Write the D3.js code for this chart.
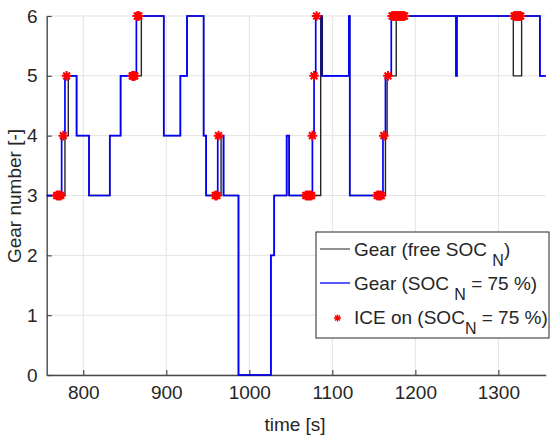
<!DOCTYPE html>
<html><head><meta charset="utf-8">
<script src="https://cdn.jsdelivr.net/npm/d3@7"></script>
<style>
html,body{margin:0;padding:0;background:#fff;}
svg{display:block;font-family:"Liberation Sans",Arial,sans-serif;}
</style></head>
<body><svg id="c" width="556" height="436"></svg>
<script>
// ---- data ----
const xDomain = [756, 1357];
const xTickValues = [800, 900, 1000, 1100, 1200, 1300];
const yTickValues = [0, 1, 2, 3, 4, 5, 6];

// Gear (SOC_N = 75 %) : change points (time, gear)
const blueTime = [756, 774, 778, 792, 807, 832, 845, 864, 897, 917, 925, 945, 948, 962, 969, 987, 1026, 1030, 1045, 1048, 1076, 1078, 1080, 1087, 1120, 1121, 1161, 1164, 1171, 1249, 1250, 1350];
const blueGear = [3, 4, 5, 4, 3, 4, 5, 6, 4, 5, 6, 4, 3, 4, 3, 0, 2, 3, 4, 3, 4, 5, 6, 5, 6, 3, 4, 5, 6, 5, 6, 5];

// Gear (free SOC_N) : change points (time, gear)
const freeTime = [756, 778, 782, 792, 807, 832, 845, 870, 897, 917, 925, 945, 948, 966, 969, 987, 1026, 1030, 1045, 1048, 1086, 1088, 1120, 1121, 1164, 1166, 1177, 1249, 1250, 1318, 1328, 1350];
const freeGear = [3, 4, 5, 4, 3, 4, 5, 6, 4, 5, 6, 4, 3, 4, 3, 0, 2, 3, 4, 3, 6, 5, 6, 3, 4, 5, 6, 5, 6, 5, 6, 5];

// ICE on (SOC_N = 75 %)
const iceTime = [768, 769, 770, 771, 772, 773, 776, 780,
  859, 860, 861, 862, 865, 866, 867,
  959, 960, 961, 963,
  1068, 1069, 1070, 1071, 1072, 1073, 1074, 1075, 1076, 1078, 1081,
  1154, 1155, 1156, 1157, 1158, 1159, 1162, 1167,
  1172, 1173, 1174, 1175, 1176, 1177, 1178, 1179, 1180, 1181, 1182, 1183, 1184, 1185, 1186, 1187,
  1319, 1320, 1321, 1322, 1323, 1324, 1325, 1326, 1327];
const iceGear = [3, 3, 3, 3, 3, 3, 4, 5,
  5, 5, 5, 5, 6, 6, 6,
  3, 3, 3, 4,
  3, 3, 3, 3, 3, 3, 3, 3, 4, 5, 6,
  3, 3, 3, 3, 3, 3, 4, 5,
  6, 6, 6, 6, 6, 6, 6, 6, 6, 6, 6, 6, 6, 6, 6, 6,
  6, 6, 6, 6, 6, 6, 6, 6, 6];

const legendLabels = [
  {main: "Gear (free SOC ", sub: "N", tail: ")"},
  {main: "Gear (SOC ", sub: "N", tail: " = 75 %)"},
  {main: "ICE on (SOC", sub: "N", tail: " = 75 %)"}
];

// ---- layout ----
const L = 46.7, R = 545.7, T = 16, B = 375;
const svg = d3.select("#c");
const x = d3.scaleLinear().domain(xDomain).range([L, R]);
const y = d3.scaleLinear().domain([0, 6]).range([B, T]);

// grid
const grid = svg.append("g");
grid.selectAll(".gx").data(xTickValues).join("line")
  .attr("x1", d => x(d)).attr("x2", d => x(d)).attr("y1", T).attr("y2", B)
  .attr("stroke", "#e3e3e3").attr("stroke-width", 1);
grid.selectAll(".gy").data(yTickValues).join("line")
  .attr("x1", L).attr("x2", R).attr("y1", d => y(d)).attr("y2", d => y(d))
  .attr("stroke", "#e3e3e3").attr("stroke-width", 1);

// axes
const fmt = d3.format("d");
const xAxis = d3.axisBottom(x).tickValues(xTickValues).tickFormat(fmt).tickSizeInner(-5).tickSizeOuter(0).tickPadding(11);
const yAxis = d3.axisLeft(y).tickValues(yTickValues).tickFormat(fmt).tickSizeInner(-5).tickSizeOuter(0).tickPadding(9);
const gx = svg.append("g").attr("transform", `translate(0,${B})`).call(xAxis);
const gy = svg.append("g").attr("transform", `translate(${L},0)`).call(yAxis);
[gx, gy].forEach(g => {
  g.select(".domain").attr("stroke", "#4a4a4a").attr("stroke-width", 1.4);
  g.selectAll(".tick line").attr("stroke", "#4a4a4a").attr("stroke-width", 1.2);
  g.selectAll(".tick text").attr("fill", "#262626").style("font-size", "19px")
    .style("font-family", '"Liberation Sans",Arial,sans-serif');
});

// lines
const stepLine = d3.line().curve(d3.curveStepAfter).x(d => x(d[0])).y(d => y(d[1]));
const freeData = freeTime.map((t, i) => [t, freeGear[i]]).concat([[xDomain[1], freeGear[freeGear.length - 1]]]);
const blueData = blueTime.map((t, i) => [t, blueGear[i]]).concat([[xDomain[1], blueGear[blueGear.length - 1]]]);

svg.append("path").datum(freeData).attr("d", stepLine)
  .attr("fill", "none").attr("stroke", "#262626").attr("stroke-width", 1.4);
svg.append("path").datum(blueData).attr("d", stepLine)
  .attr("fill", "none").attr("stroke", "#0000ff").attr("stroke-width", 1.7);

// asterisk marker
function asterisk(cx, cy, r) {
  const a = r * Math.SQRT1_2;
  return `M${cx - r},${cy}L${cx + r},${cy}M${cx},${cy - r}L${cx},${cy + r}` +
         `M${cx - a},${cy - a}L${cx + a},${cy + a}M${cx - a},${cy + a}L${cx + a},${cy - a}`;
}
svg.append("g").selectAll("path").data(iceTime.map((t, i) => [t, iceGear[i]])).join("path")
  .attr("d", d => asterisk(x(d[0]), y(d[1]), 4.8))
  .attr("stroke", "#ff0000").attr("stroke-width", 2).attr("fill", "none");

// axis labels
svg.append("text").attr("x", 295).attr("y", 431).attr("text-anchor", "middle")
  .style("font-size", "19px").attr("fill", "#262626").text("time [s]");
svg.append("text").attr("transform", "translate(21,196) rotate(-90)").attr("text-anchor", "middle")
  .style("font-size", "19px").attr("fill", "#262626").text("Gear number [-]");

// legend
const lg = svg.append("g");
lg.append("rect").attr("x", 316).attr("y", 232).attr("width", 233).attr("height", 106)
  .attr("fill", "#fff").attr("stroke", "#262626").attr("stroke-width", 1);
const rowY = [256, 290, 324];
lg.append("line").attr("x1", 320).attr("x2", 350).attr("y1", rowY[0] - 7).attr("y2", rowY[0] - 7)
  .attr("stroke", "#555").attr("stroke-width", 1.3);
lg.append("line").attr("x1", 320).attr("x2", 350).attr("y1", rowY[1] - 7).attr("y2", rowY[1] - 7)
  .attr("stroke", "#0000ff").attr("stroke-width", 1.3);
lg.append("path").attr("d", asterisk(337.5, rowY[2] - 6, 3.5))
  .attr("stroke", "#ff0000").attr("stroke-width", 1.4).attr("fill", "none");
legendLabels.forEach((lab, i) => {
  const t = lg.append("text").attr("x", 354).attr("y", rowY[i]).style("font-size", "19px").attr("fill", "#262626");
  t.append("tspan").text(lab.main);
  t.append("tspan").attr("dy", 10).style("font-size", "16px").text(lab.sub);
  t.append("tspan").attr("dy", -10).text(lab.tail);
});
</script></body></html>
